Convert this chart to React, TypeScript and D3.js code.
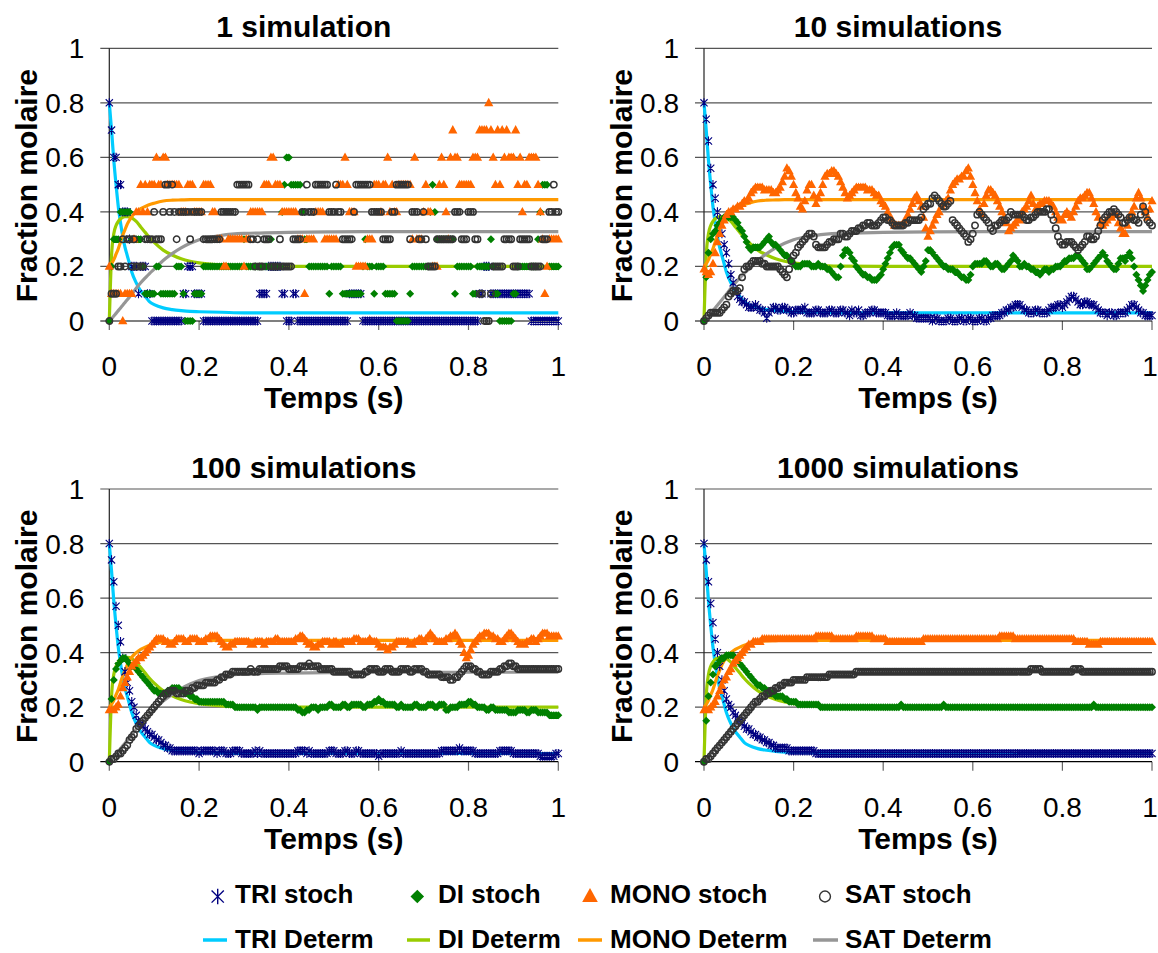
import React from "react";
import * as d3 from "d3";

// ---------- shared labels ----------
const TITLES = ["1 simulation", "10 simulations", "100 simulations", "1000 simulations"];
const TICK_VALUES = [0, 0.2, 0.4, 0.6, 0.8, 1];
const TICK_LABELS = ["0", "0.2", "0.4", "0.6", "0.8", "1"];
const X_TITLE = "Temps (s)";
const Y_TITLE = "Fraction molaire";
const LEGEND_STOCH = ["TRI stoch", "DI stoch", "MONO stoch", "SAT stoch"];
const LEGEND_DET = ["TRI Determ", "DI Determ", "MONO Determ", "SAT Determ"];

// ---------- deterministic model (same in every panel) ----------
const DET_T = [0, 0.005, 0.01, 0.015, 0.02, 0.025, 0.03, 0.035, 0.04, 0.045, 0.05, 0.06, 0.07, 0.08, 0.09, 0.1, 0.12, 0.14, 0.16, 0.18, 0.2, 0.25, 0.3, 0.4, 0.5, 0.7, 1.0];
const TRI_DET = [0.8, 0.7, 0.59, 0.5, 0.42, 0.36, 0.31, 0.27, 0.24, 0.21, 0.18, 0.14, 0.11, 0.09, 0.07, 0.06, 0.048, 0.042, 0.038, 0.035, 0.034, 0.032, 0.03, 0.03, 0.03, 0.03, 0.03];
const DI_DET = [0, 0.24, 0.32, 0.35, 0.365, 0.375, 0.38, 0.383, 0.383, 0.382, 0.378, 0.365, 0.345, 0.325, 0.305, 0.288, 0.26, 0.242, 0.228, 0.219, 0.213, 0.205, 0.201, 0.2, 0.2, 0.2, 0.2];
const MONO_DET = [0.2, 0.21, 0.225, 0.245, 0.265, 0.29, 0.315, 0.335, 0.355, 0.37, 0.383, 0.4, 0.412, 0.42, 0.427, 0.432, 0.44, 0.443, 0.444, 0.445, 0.445, 0.445, 0.445, 0.445, 0.445, 0.445, 0.445];
const SAT_DET = [0, 0.008, 0.018, 0.028, 0.038, 0.048, 0.058, 0.068, 0.078, 0.088, 0.098, 0.12, 0.14, 0.158, 0.175, 0.19, 0.222, 0.247, 0.268, 0.285, 0.298, 0.314, 0.321, 0.325, 0.327, 0.328, 0.328];

// ---------- 1 simulation: level in tenths, one char every 0.005 s, one string per 0.1 s ----------
const TRI_1 = [
  "87665544432221222110",
  "00000000000001122211",
  "11000000000000000000",
  "00000001111222222110",
  "00110000000000000000",
  "00000001111110000000",
  "00000000000000000000",
  "00000000000000000000",
  "00000112221111111111",
  "11111111000000000000",
  "0",
];
const DI_1 = [
  "02333444443333321111",
  "12211111112221000011",
  "11222222222222222222",
  "32222222222232222456",
  "65555543322222222212",
  "22221111111112322212",
  "22211111000000122222",
  "22245433333333122222",
  "22112222223211000000",
  "11222222222345552222",
  "2",
];
const MONO_1 = [
  "21111101111344545455",
  "56556655555544455544",
  "44555544333223333333",
  "23344444455566555444",
  "44443331333344443333",
  "33555654442222233355",
  "54556454455555536333",
  "45442225654367665555",
  "55666777787657576766",
  "67564556666543123333",
  "3",
];
const SAT_1 = [
  "01112232332322223333",
  "43334554543444443444",
  "44333333334444444555",
  "55533232233322223222",
  "22333344544455555544",
  "45443333345555555444",
  "44333344555555344433",
  "43222233333333444333",
  "44433110001222223333",
  "22233333222223334454",
  "4",
];

// ---------- averaged runs: percent values, one row per 0.1 s (every 0.005 s), last row = t 1.0 ----------
const TRI_10 = [
  [80, 74, 66, 56, 50, 45, 40, 37, 32, 28, 25, 21, 17, 14, 11, 9, 8, 7, 7, 6],
  [5, 5, 5, 6, 5, 4, 4, 3, 1, 3, 4, 5, 5, 4, 4, 5, 5, 4, 4, 3],
  [3, 4, 4, 4, 4, 5, 3, 3, 3, 3, 4, 4, 3, 3, 3, 3, 4, 4, 3, 3],
  [3, 4, 4, 3, 3, 2, 4, 3, 3, 4, 2, 2, 3, 3, 3, 4, 4, 3, 3, 3],
  [3, 3, 2, 2, 2, 2, 3, 2, 2, 2, 2, 2, 3, 2, 2, 1, 1, 1, 1, 1],
  [1, 1, 0, 1, 1, 0, 0, 0, 0, 1, 1, 0, 0, 0, 1, 1, 0, 0, 1, 1],
  [0, 0, 0, 1, 1, 0, 0, 1, 1, 2, 2, 2, 2, 3, 3, 4, 4, 5, 5, 6],
  [6, 6, 5, 4, 4, 3, 3, 3, 4, 4, 3, 3, 3, 3, 4, 5, 5, 5, 6, 6],
  [5, 6, 7, 8, 9, 9, 8, 7, 6, 6, 7, 7, 6, 6, 6, 5, 4, 3, 3, 3],
  [2, 3, 3, 2, 2, 3, 3, 3, 3, 4, 5, 6, 6, 5, 4, 3, 3, 2, 2, 2],
  [2],
];
const DI_10 = [
  [0, 16, 25, 30, 32, 33, 35, 36, 37, 38, 38, 38, 38, 38, 37, 36, 34, 33, 31, 29],
  [27, 26, 27, 27, 27, 27, 28, 29, 30, 31, 29, 28, 28, 27, 26, 25, 24, 24, 23, 22],
  [21, 20, 20, 20, 21, 21, 21, 21, 20, 20, 20, 21, 20, 20, 20, 19, 19, 18, 17, 16],
  [16, 20, 24, 26, 26, 25, 23, 22, 20, 19, 18, 17, 17, 16, 16, 15, 15, 15, 16, 17],
  [19, 21, 23, 25, 27, 28, 28, 28, 26, 25, 24, 23, 23, 22, 21, 20, 19, 18, 20, 22],
  [26, 26, 25, 24, 23, 22, 21, 20, 20, 19, 19, 19, 18, 18, 17, 16, 16, 15, 15, 17],
  [20, 21, 21, 21, 21, 22, 22, 21, 20, 20, 21, 21, 20, 19, 19, 20, 21, 22, 24, 23],
  [22, 20, 20, 21, 20, 20, 19, 19, 18, 18, 17, 18, 19, 19, 18, 19, 19, 20, 20, 20],
  [21, 22, 22, 23, 23, 23, 24, 24, 23, 22, 21, 19, 19, 20, 21, 22, 23, 24, 25, 24],
  [22, 21, 20, 19, 19, 21, 23, 23, 22, 24, 25, 23, 20, 17, 15, 13, 11, 13, 15, 17],
  [18],
];
const MONO_10 = [
  [19, 18, 17, 18, 21, 25, 29, 32, 35, 37, 39, 40, 40, 41, 41, 42, 42, 43, 44, 44],
  [45, 47, 48, 49, 49, 49, 49, 48, 48, 48, 48, 47, 47, 48, 49, 51, 53, 56, 55, 53],
  [50, 47, 45, 42, 41, 44, 48, 50, 50, 46, 43, 45, 47, 50, 53, 54, 54, 55, 55, 54],
  [53, 51, 49, 47, 45, 46, 47, 48, 49, 49, 49, 49, 49, 48, 48, 48, 47, 46, 46, 44],
  [43, 42, 40, 38, 37, 35, 35, 35, 35, 36, 37, 39, 41, 43, 45, 46, 44, 42, 38, 34],
  [31, 33, 35, 37, 39, 40, 42, 43, 44, 45, 48, 50, 51, 52, 52, 53, 53, 55, 56, 53],
  [50, 47, 44, 41, 39, 43, 46, 48, 48, 47, 46, 44, 42, 40, 38, 36, 33, 34, 35, 36],
  [37, 37, 40, 41, 42, 44, 46, 43, 41, 42, 43, 43, 44, 44, 44, 43, 42, 40, 38, 37],
  [37, 39, 40, 39, 38, 40, 42, 44, 45, 45, 46, 47, 47, 45, 43, 40, 38, 36, 35, 36],
  [37, 38, 38, 39, 39, 36, 34, 32, 32, 35, 38, 40, 42, 45, 47, 45, 42, 40, 38, 41],
  [44],
];
const SAT_10 = [
  [0, 1, 2, 3, 3, 3, 3, 3, 4, 5, 6, 9, 10, 11, 11, 11, 12, 16, 19, 20],
  [20, 21, 22, 22, 22, 22, 21, 21, 20, 20, 20, 20, 20, 20, 19, 18, 17, 16, 19, 22],
  [24, 25, 27, 28, 29, 30, 31, 32, 32, 31, 28, 27, 27, 27, 27, 28, 29, 29, 30, 30],
  [30, 32, 32, 31, 31, 32, 33, 33, 33, 34, 34, 35, 35, 36, 36, 35, 35, 35, 36, 37],
  [38, 38, 37, 37, 36, 35, 35, 35, 35, 35, 36, 36, 37, 37, 37, 37, 37, 38, 41, 42],
  [43, 43, 45, 46, 45, 44, 43, 42, 42, 43, 44, 37, 36, 35, 34, 33, 32, 31, 29, 30],
  [32, 35, 39, 40, 39, 38, 37, 36, 34, 33, 35, 35, 36, 37, 37, 37, 38, 40, 39, 39],
  [39, 39, 39, 38, 37, 37, 38, 38, 39, 40, 40, 40, 40, 41, 41, 39, 37, 34, 31, 29],
  [28, 28, 29, 29, 29, 28, 27, 26, 27, 28, 29, 31, 31, 30, 30, 31, 33, 35, 37, 38],
  [39, 40, 40, 41, 40, 39, 38, 36, 36, 37, 38, 38, 37, 37, 36, 39, 42, 40, 37, 36],
  [35],
];

const TRI_100 = [
  [80, 74, 66, 57, 50, 44, 38, 33, 29, 26, 22, 20, 17, 15, 14, 13, 12, 11, 10, 10],
  [9, 8, 8, 7, 6, 6, 5, 5, 4, 4, 4, 4, 4, 4, 4, 4, 4, 4, 4, 4],
  [3, 4, 4, 4, 4, 4, 4, 4, 3, 4, 4, 4, 3, 3, 3, 4, 4, 4, 4, 3],
  [3, 3, 3, 3, 3, 4, 3, 4, 3, 3, 3, 3, 3, 3, 3, 3, 3, 3, 3, 3],
  [3, 3, 3, 3, 4, 4, 4, 4, 3, 4, 3, 3, 3, 3, 3, 3, 3, 3, 4, 4],
  [4, 3, 3, 3, 3, 4, 4, 3, 3, 3, 4, 4, 3, 3, 3, 3, 3, 3, 3, 3],
  [2, 3, 3, 3, 3, 3, 3, 3, 3, 3, 4, 3, 3, 3, 3, 3, 3, 3, 3, 3],
  [3, 3, 3, 3, 3, 3, 3, 3, 4, 4, 4, 4, 4, 4, 4, 4, 5, 4, 4, 4],
  [4, 4, 4, 3, 3, 3, 3, 3, 3, 3, 3, 3, 3, 3, 4, 4, 4, 4, 4, 4],
  [3, 3, 3, 3, 3, 3, 3, 3, 3, 3, 3, 3, 2, 2, 2, 2, 2, 2, 2, 3],
  [3],
];
const DI_100 = [
  [0, 23, 30, 34, 36, 37, 38, 38, 37, 36, 35, 35, 34, 33, 32, 31, 30, 29, 28, 27],
  [26, 26, 25, 25, 25, 25, 26, 26, 27, 27, 27, 27, 26, 26, 25, 25, 24, 24, 23, 23],
  [22, 22, 22, 22, 22, 22, 22, 22, 22, 22, 22, 22, 21, 21, 21, 21, 20, 20, 20, 20],
  [20, 20, 20, 20, 20, 20, 19, 20, 20, 20, 20, 20, 20, 20, 20, 20, 20, 20, 20, 20],
  [20, 20, 20, 20, 19, 19, 18, 18, 19, 19, 20, 20, 20, 19, 20, 20, 20, 20, 21, 21],
  [20, 20, 20, 20, 21, 21, 20, 20, 21, 21, 21, 21, 21, 20, 20, 21, 21, 21, 22, 22],
  [23, 22, 22, 21, 21, 21, 21, 21, 20, 20, 21, 20, 20, 20, 20, 20, 21, 21, 20, 20],
  [20, 20, 21, 21, 21, 20, 20, 21, 21, 21, 19, 19, 20, 20, 20, 20, 21, 21, 21, 21],
  [22, 22, 21, 21, 20, 20, 20, 20, 19, 19, 20, 20, 19, 19, 19, 19, 19, 19, 18, 18],
  [18, 18, 19, 19, 19, 19, 18, 18, 19, 19, 19, 18, 18, 18, 18, 18, 17, 17, 17, 17],
  [17],
];
const MONO_100 = [
  [19, 19, 19, 20, 21, 24, 27, 29, 31, 33, 35, 36, 37, 38, 38, 39, 40, 41, 42, 43],
  [44, 45, 45, 45, 45, 44, 44, 43, 43, 44, 45, 45, 45, 45, 44, 44, 45, 45, 45, 45],
  [44, 44, 44, 45, 45, 46, 46, 46, 46, 45, 44, 43, 42, 42, 43, 43, 44, 44, 44, 44],
  [44, 44, 44, 43, 43, 44, 44, 44, 44, 43, 44, 44, 44, 44, 45, 45, 44, 44, 44, 44],
  [44, 44, 44, 45, 45, 46, 46, 45, 44, 43, 43, 42, 42, 43, 43, 44, 44, 44, 44, 43],
  [44, 44, 43, 43, 44, 44, 44, 44, 44, 45, 45, 45, 44, 44, 44, 44, 45, 44, 44, 44],
  [43, 42, 42, 42, 41, 42, 42, 43, 44, 44, 44, 44, 44, 44, 43, 43, 44, 44, 45, 45],
  [44, 45, 46, 47, 46, 45, 44, 44, 44, 44, 45, 45, 46, 46, 47, 46, 44, 43, 40, 38],
  [39, 41, 43, 44, 45, 46, 46, 47, 47, 47, 46, 46, 45, 45, 44, 44, 45, 46, 47, 47],
  [46, 45, 44, 43, 43, 43, 44, 44, 45, 45, 44, 45, 46, 47, 47, 47, 46, 46, 46, 46],
  [46],
];
const SAT_100 = [
  [0, 1, 1, 2, 3, 3, 4, 5, 6, 8, 9, 10, 12, 13, 14, 15, 16, 17, 18, 19],
  [20, 21, 22, 23, 24, 25, 25, 26, 26, 26, 25, 25, 25, 25, 26, 26, 26, 27, 27, 28],
  [28, 28, 28, 29, 29, 29, 29, 29, 30, 30, 31, 31, 32, 32, 32, 33, 33, 33, 33, 33],
  [33, 33, 33, 34, 33, 33, 33, 34, 34, 34, 34, 34, 34, 34, 34, 34, 35, 35, 35, 35],
  [34, 34, 34, 34, 34, 35, 35, 35, 35, 36, 35, 35, 35, 35, 34, 34, 34, 34, 34, 34],
  [33, 33, 33, 33, 33, 33, 33, 33, 32, 32, 32, 32, 32, 32, 33, 33, 34, 34, 34, 34],
  [33, 33, 33, 34, 34, 34, 33, 33, 33, 33, 34, 34, 34, 34, 33, 33, 34, 34, 34, 34],
  [33, 33, 32, 32, 32, 32, 32, 32, 31, 31, 31, 31, 30, 30, 31, 31, 32, 33, 34, 35],
  [35, 35, 34, 34, 33, 33, 32, 32, 32, 32, 33, 33, 33, 33, 34, 34, 35, 35, 36, 36],
  [35, 35, 34, 34, 34, 34, 34, 34, 34, 34, 34, 34, 34, 34, 34, 34, 34, 34, 34, 34],
  [34],
];

const TRI_1000 = [
  [80, 74, 66, 58, 51, 45, 40, 35, 30, 26, 23, 21, 20, 18, 17, 16, 15, 14, 13, 12],
  [12, 11, 10, 10, 9, 9, 8, 8, 7, 7, 6, 6, 5, 5, 5, 5, 5, 5, 4, 4],
  [4, 4, 4, 4, 4, 4, 4, 4, 4, 4, 3, 3, 3, 3, 3, 3, 3, 3, 3, 3],
  [3, 3, 3, 3, 3, 3, 3, 3, 3, 3, 3, 3, 3, 3, 3, 3, 3, 3, 3, 3],
  [3, 3, 3, 3, 3, 3, 3, 3, 3, 3, 3, 3, 3, 3, 3, 3, 3, 3, 3, 3],
  [3, 3, 3, 3, 3, 3, 3, 3, 3, 3, 3, 3, 3, 3, 3, 3, 3, 3, 3, 3],
  [3, 3, 3, 3, 3, 3, 3, 3, 3, 3, 3, 3, 3, 3, 3, 3, 3, 3, 3, 3],
  [3, 3, 3, 3, 3, 3, 3, 3, 3, 3, 3, 3, 3, 3, 3, 3, 3, 3, 3, 3],
  [3, 3, 3, 3, 3, 3, 3, 3, 3, 3, 3, 3, 3, 3, 3, 3, 3, 3, 3, 3],
  [3, 3, 3, 3, 3, 3, 3, 3, 3, 3, 3, 3, 3, 3, 3, 3, 3, 3, 3, 3],
  [3],
];
const DI_1000 = [
  [0, 15, 24, 29, 32, 35, 36, 37, 38, 38, 39, 39, 39, 39, 38, 37, 36, 35, 34, 33],
  [32, 31, 30, 29, 28, 28, 27, 27, 26, 26, 25, 25, 24, 24, 24, 24, 23, 23, 22, 22],
  [22, 22, 21, 21, 21, 21, 21, 21, 21, 21, 21, 21, 20, 20, 20, 20, 20, 20, 20, 20],
  [20, 20, 20, 20, 20, 20, 20, 20, 20, 20, 20, 20, 20, 20, 20, 20, 20, 20, 20, 20],
  [20, 20, 20, 20, 20, 20, 20, 20, 21, 20, 20, 20, 20, 20, 20, 20, 20, 20, 20, 20],
  [20, 20, 20, 20, 20, 20, 20, 21, 20, 20, 20, 20, 20, 20, 20, 20, 20, 20, 20, 20],
  [20, 20, 20, 20, 20, 20, 20, 20, 20, 20, 20, 20, 20, 20, 20, 20, 20, 20, 20, 20],
  [20, 20, 20, 20, 20, 20, 20, 20, 20, 20, 20, 20, 20, 20, 20, 20, 20, 20, 20, 20],
  [20, 20, 20, 20, 20, 20, 20, 20, 20, 20, 20, 20, 20, 20, 21, 20, 20, 20, 20, 20],
  [20, 20, 20, 20, 20, 20, 20, 20, 20, 20, 20, 20, 20, 20, 20, 20, 20, 20, 20, 20],
  [20],
];
const MONO_1000 = [
  [19, 19, 19, 20, 21, 22, 24, 26, 28, 30, 31, 33, 34, 36, 37, 38, 39, 40, 41, 42],
  [43, 43, 44, 44, 44, 44, 45, 45, 45, 45, 45, 45, 45, 45, 45, 45, 45, 45, 45, 45],
  [45, 45, 45, 45, 45, 45, 45, 45, 45, 45, 46, 46, 46, 46, 46, 46, 46, 46, 45, 45],
  [45, 45, 45, 45, 45, 45, 45, 45, 46, 46, 46, 46, 46, 46, 46, 46, 45, 45, 45, 45],
  [45, 45, 44, 44, 44, 44, 44, 44, 44, 44, 44, 44, 44, 44, 44, 44, 44, 44, 45, 45],
  [45, 45, 45, 45, 45, 45, 45, 45, 45, 45, 45, 45, 45, 45, 45, 45, 45, 45, 45, 45],
  [45, 45, 45, 45, 45, 45, 45, 45, 45, 45, 45, 45, 46, 46, 46, 46, 46, 46, 46, 45],
  [45, 45, 45, 45, 45, 45, 45, 45, 45, 45, 45, 45, 45, 45, 45, 45, 45, 45, 45, 45],
  [45, 45, 45, 45, 45, 45, 44, 44, 44, 44, 44, 44, 43, 43, 43, 43, 43, 44, 44, 44],
  [44, 44, 44, 44, 44, 44, 44, 44, 44, 44, 44, 44, 44, 44, 44, 44, 44, 44, 44, 44],
  [44],
];
const SAT_1000 = [
  [0, 1, 1, 2, 3, 4, 5, 6, 7, 8, 9, 10, 11, 12, 13, 14, 15, 16, 17, 18],
  [19, 20, 21, 22, 22, 23, 24, 24, 25, 25, 26, 26, 27, 27, 28, 28, 29, 29, 29, 29],
  [30, 30, 30, 30, 30, 30, 31, 31, 31, 31, 31, 31, 31, 31, 31, 31, 32, 32, 32, 32],
  [32, 32, 32, 32, 32, 32, 32, 32, 33, 33, 33, 33, 33, 33, 33, 33, 33, 33, 33, 33],
  [33, 33, 33, 33, 33, 33, 33, 33, 33, 33, 33, 33, 33, 33, 33, 33, 33, 33, 33, 33],
  [33, 33, 33, 33, 33, 33, 33, 33, 33, 33, 33, 33, 33, 33, 33, 33, 33, 33, 33, 33],
  [33, 33, 33, 33, 33, 33, 33, 33, 33, 33, 33, 33, 33, 33, 33, 33, 33, 33, 33, 33],
  [33, 33, 33, 33, 33, 33, 34, 34, 34, 34, 34, 33, 33, 33, 33, 33, 33, 33, 33, 33],
  [33, 33, 33, 33, 33, 34, 34, 34, 34, 33, 33, 33, 33, 33, 33, 33, 33, 33, 33, 33],
  [33, 33, 33, 33, 33, 33, 33, 33, 33, 33, 33, 33, 33, 33, 33, 33, 33, 33, 33, 33],
  [33],
];

// ---------- layout & style ----------
const W = 1158;
const H = 953;
const FONT = "'Liberation Sans', Arial, Helvetica, sans-serif";
const LAYOUT = [
  { x0: 109.3, x1: 558.3, yTop: 48.3, yBot: 321 },
  { x0: 704, x1: 1152, yTop: 48.3, yBot: 321 },
  { x0: 109.3, x1: 558.3, yTop: 489, yBot: 761.7 },
  { x0: 704, x1: 1152, yTop: 489, yBot: 761.7 },
];
const STOCH_COLORS = ["#000080", "#008000", "#FF6600", "#333333"];
const DET_COLORS = ["#00CCFF", "#99CC00", "#FF9900", "#969696"];
const MARKERS = ["star", "diamond", "triangle", "circle"];

type Pt = [number, number];

function parseLevels(chunks: string[]): Pt[] {
  const out: Pt[] = [];
  chunks.forEach((c, k) => {
    for (let j = 0; j < c.length; j++) out.push([k * 0.1 + j * 0.005, Number(c[j]) / 10]);
  });
  return out;
}
function parseRows(rows: number[][]): Pt[] {
  const out: Pt[] = [];
  rows.forEach((r, k) => {
    r.forEach((v, j) => out.push([k * 0.1 + j * 0.005, v / 100]));
  });
  return out;
}

function markerPath(kind: string, x: number, y: number, s: number): string {
  switch (kind) {
    case "star": {
      const a = 3.6 * s, b = 4.6 * s;
      return `M${x - a},${y - a}L${x + a},${y + a}M${x - a},${y + a}L${x + a},${y - a}M${x},${y - b}L${x},${y + b}`;
    }
    case "diamond": {
      const a = 4 * s, b = 4 * s;
      return `M${x},${y - b}L${x + a},${y}L${x},${y + b}L${x - a},${y}Z`;
    }
    case "triangle": {
      const a = 4.6 * s;
      return `M${x},${y - 5 * s}L${x + a},${y + 3.3 * s}L${x - a},${y + 3.3 * s}Z`;
    }
    default: {
      const r = 3.2 * s;
      return `M${x - r},${y}a${r},${r} 0 1,0 ${2 * r},0a${r},${r} 0 1,0 ${-2 * r},0`;
    }
  }
}

function markerStyle(i: number, legend = false) {
  const kind = MARKERS[i];
  const c = STOCH_COLORS[i];
  if (kind === "star") return { fill: "none", stroke: c, strokeWidth: legend ? 1.4 : 1.1 };
  if (kind === "circle") return { fill: "none", stroke: c, strokeWidth: legend ? 1.4 : 1.5 };
  return { fill: c, stroke: "none", strokeWidth: 0 };
}

const PANEL_STOCH: Pt[][][] = [
  [parseLevels(TRI_1), parseLevels(DI_1), parseLevels(MONO_1), parseLevels(SAT_1)],
  [parseRows(TRI_10), parseRows(DI_10), parseRows(MONO_10), parseRows(SAT_10)],
  [parseRows(TRI_100), parseRows(DI_100), parseRows(MONO_100), parseRows(SAT_100)],
  [parseRows(TRI_1000), parseRows(DI_1000), parseRows(MONO_1000), parseRows(SAT_1000)],
];
const DET_SERIES: Pt[][] = [TRI_DET, DI_DET, MONO_DET, SAT_DET].map((arr) =>
  arr.map((v, i) => [DET_T[i], v] as Pt)
);

function Panel({ idx }: { idx: number }) {
  const L = LAYOUT[idx];
  const xs = d3.scaleLinear().domain([0, 1]).range([L.x0, L.x1]);
  const ys = d3.scaleLinear().domain([0, 1]).range([L.yBot, L.yTop]);
  const line = d3
    .line<Pt>()
    .x((d) => xs(d[0]))
    .y((d) => ys(d[1]))
    .curve(d3.curveMonotoneX);
  const cx = (L.x0 + L.x1) / 2;
  const cy = (L.yTop + L.yBot) / 2;
  return (
    <g>
      {TICK_VALUES.filter((v) => v > 0).map((v) => (
        <line key={"g" + v} x1={L.x0 - 9} x2={L.x1} y1={ys(v)} y2={ys(v)} stroke="#555" strokeWidth={1.2} />
      ))}
      {TICK_VALUES.map((v) => (
        <line key={"xt" + v} x1={xs(v)} x2={xs(v)} y1={L.yBot} y2={L.yBot + 9} stroke="#666" strokeWidth={1.2} />
      ))}
      <line x1={L.x0 - 9} x2={L.x1} y1={L.yBot} y2={L.yBot} stroke="#000" strokeWidth={1.2} />
      <line x1={L.x0} x2={L.x0} y1={L.yTop} y2={L.yBot} stroke="#222" strokeWidth={1.2} />
      {DET_SERIES.map((s, i) => (
        <path key={"d" + i} d={line(s) || ""} fill="none" stroke={DET_COLORS[i]} strokeWidth={3.2} strokeLinejoin="round" />
      ))}
      {PANEL_STOCH[idx].map((s, i) => {
        const st = markerStyle(i);
        const d = s.map((p) => markerPath(MARKERS[i], xs(p[0]), ys(p[1]), 1)).join("");
        return <path key={"s" + i} d={d} fill={st.fill} stroke={st.stroke} strokeWidth={st.strokeWidth} />;
      })}
      {TICK_VALUES.map((v, i) => (
        <text key={"yl" + v} x={L.x0 - 25} y={ys(v) + 10} textAnchor="end" fontSize={28} fontFamily={FONT} fill="#000">
          {TICK_LABELS[i]}
        </text>
      ))}
      {TICK_VALUES.map((v, i) => (
        <text key={"xl" + v} x={Math.min(xs(v), W - 8)} y={L.yBot + 55} textAnchor="middle" fontSize={28} fontFamily={FONT} fill="#000">
          {TICK_LABELS[i]}
        </text>
      ))}
      <text x={cx - 30} y={L.yTop - 11} textAnchor="middle" fontSize={30} fontWeight="bold" fontFamily={FONT}>
        {TITLES[idx]}
      </text>
      <text x={cx} y={L.yBot + 87} textAnchor="middle" fontSize={30} fontWeight="bold" fontFamily={FONT}>
        {X_TITLE}
      </text>
      <text
        transform={`translate(${L.x0 - 72},${cy + 1}) rotate(-90)`}
        textAnchor="middle"
        fontSize={30}
        fontWeight="bold"
        fontFamily={FONT}
      >
        {Y_TITLE}
      </text>
    </g>
  );
}

const LEGEND_MARKER_X = [217.7, 417.3, 590, 825];
const LEGEND_TEXT_X = [235, 438, 610, 845];
const LEGEND_LINE_X = [[203, 227], [407, 430], [578, 602], [813, 838]];

function Legend() {
  return (
    <g>
      {LEGEND_STOCH.map((name, i) => {
        const st = markerStyle(i, true);
        return (
          <g key={"ls" + i}>
            <path d={markerPath(MARKERS[i], LEGEND_MARKER_X[i], 896.5, 1.7)} fill={st.fill} stroke={st.stroke} strokeWidth={st.strokeWidth} />
            <text x={LEGEND_TEXT_X[i]} y={903} fontSize={26} fontWeight="bold" fontFamily={FONT}>
              {name}
            </text>
          </g>
        );
      })}
      {LEGEND_DET.map((name, i) => (
        <g key={"ld" + i}>
          <line x1={LEGEND_LINE_X[i][0]} x2={LEGEND_LINE_X[i][1]} y1={940} y2={940} stroke={DET_COLORS[i]} strokeWidth={3.5} />
          <text x={LEGEND_TEXT_X[i]} y={947.5} fontSize={26} fontWeight="bold" fontFamily={FONT}>
            {name}
          </text>
        </g>
      ))}
    </g>
  );
}

export default function App() {
  return (
    <svg
      width={W}
      height={H}
      viewBox={`0 0 ${W} ${H}`}
      style={{ position: "absolute", left: 0, top: 0, background: "#fff" }}
    >
      <rect x={0} y={0} width={W} height={H} fill="#fff" />
      {[0, 1, 2, 3].map((i) => (
        <Panel key={i} idx={i} />
      ))}
      <Legend />
    </svg>
  );
}
